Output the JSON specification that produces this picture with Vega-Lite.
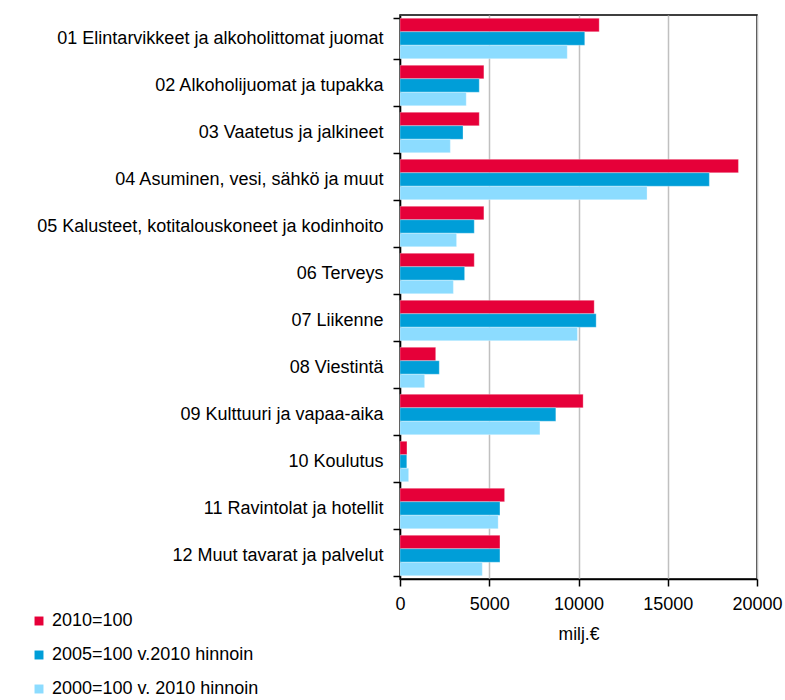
{
  "$schema": "https://vega.github.io/schema/vega-lite/v6.json",
  "width": 357,
  "height": 564,
  "autosize": {"type": "none"},
  "padding": {"left": 400, "top": 15, "right": 28, "bottom": 121},
  "background": "white",
  "config": {
    "view": {"stroke": "black", "strokeWidth": 1.5},
    "font": "Liberation Sans",
    "axis": {"labelFont": "Liberation Sans", "labelFontSize": 18, "labelColor": "black", "titleFont": "Liberation Sans", "titleFontSize": 17.5, "titleFontWeight": "normal", "titleColor": "black", "domainColor": "black", "tickColor": "black", "domainWidth": 1.5, "tickWidth": 1.5}
  },
  "data": {
    "values": [
      {"cat": "01 Elintarvikkeet ja alkoholittomat juomat", "series": "2010=100", "ord": 1, "value": 11160},
      {"cat": "01 Elintarvikkeet ja alkoholittomat juomat", "series": "2005=100 v.2010 hinnoin", "ord": 2, "value": 10350},
      {"cat": "01 Elintarvikkeet ja alkoholittomat juomat", "series": "2000=100 v. 2010 hinnoin", "ord": 3, "value": 9370},
      {"cat": "02 Alkoholijuomat ja tupakka", "series": "2010=100", "ord": 1, "value": 4700},
      {"cat": "02 Alkoholijuomat ja tupakka", "series": "2005=100 v.2010 hinnoin", "ord": 2, "value": 4440},
      {"cat": "02 Alkoholijuomat ja tupakka", "series": "2000=100 v. 2010 hinnoin", "ord": 3, "value": 3710},
      {"cat": "03 Vaatetus ja jalkineet", "series": "2010=100", "ord": 1, "value": 4440},
      {"cat": "03 Vaatetus ja jalkineet", "series": "2005=100 v.2010 hinnoin", "ord": 2, "value": 3530},
      {"cat": "03 Vaatetus ja jalkineet", "series": "2000=100 v. 2010 hinnoin", "ord": 3, "value": 2820},
      {"cat": "04 Asuminen, vesi, sähkö ja muut", "series": "2010=100", "ord": 1, "value": 18960},
      {"cat": "04 Asuminen, vesi, sähkö ja muut", "series": "2005=100 v.2010 hinnoin", "ord": 2, "value": 17330},
      {"cat": "04 Asuminen, vesi, sähkö ja muut", "series": "2000=100 v. 2010 hinnoin", "ord": 3, "value": 13840},
      {"cat": "05 Kalusteet, kotitalouskoneet ja kodinhoito", "series": "2010=100", "ord": 1, "value": 4700},
      {"cat": "05 Kalusteet, kotitalouskoneet ja kodinhoito", "series": "2005=100 v.2010 hinnoin", "ord": 2, "value": 4160},
      {"cat": "05 Kalusteet, kotitalouskoneet ja kodinhoito", "series": "2000=100 v. 2010 hinnoin", "ord": 3, "value": 3170},
      {"cat": "06 Terveys", "series": "2010=100", "ord": 1, "value": 4160},
      {"cat": "06 Terveys", "series": "2005=100 v.2010 hinnoin", "ord": 2, "value": 3620},
      {"cat": "06 Terveys", "series": "2000=100 v. 2010 hinnoin", "ord": 3, "value": 2990},
      {"cat": "07 Liikenne", "series": "2010=100", "ord": 1, "value": 10880},
      {"cat": "07 Liikenne", "series": "2005=100 v.2010 hinnoin", "ord": 2, "value": 10990},
      {"cat": "07 Liikenne", "series": "2000=100 v. 2010 hinnoin", "ord": 3, "value": 9940},
      {"cat": "08 Viestintä", "series": "2010=100", "ord": 1, "value": 2000},
      {"cat": "08 Viestintä", "series": "2005=100 v.2010 hinnoin", "ord": 2, "value": 2200},
      {"cat": "08 Viestintä", "series": "2000=100 v. 2010 hinnoin", "ord": 3, "value": 1380},
      {"cat": "09 Kulttuuri ja vapaa-aika", "series": "2010=100", "ord": 1, "value": 10260},
      {"cat": "09 Kulttuuri ja vapaa-aika", "series": "2005=100 v.2010 hinnoin", "ord": 2, "value": 8730},
      {"cat": "09 Kulttuuri ja vapaa-aika", "series": "2000=100 v. 2010 hinnoin", "ord": 3, "value": 7840},
      {"cat": "10 Koulutus", "series": "2010=100", "ord": 1, "value": 390},
      {"cat": "10 Koulutus", "series": "2005=100 v.2010 hinnoin", "ord": 2, "value": 380},
      {"cat": "10 Koulutus", "series": "2000=100 v. 2010 hinnoin", "ord": 3, "value": 485},
      {"cat": "11 Ravintolat ja hotellit", "series": "2010=100", "ord": 1, "value": 5860},
      {"cat": "11 Ravintolat ja hotellit", "series": "2005=100 v.2010 hinnoin", "ord": 2, "value": 5600},
      {"cat": "11 Ravintolat ja hotellit", "series": "2000=100 v. 2010 hinnoin", "ord": 3, "value": 5500},
      {"cat": "12 Muut tavarat ja palvelut", "series": "2010=100", "ord": 1, "value": 5600},
      {"cat": "12 Muut tavarat ja palvelut", "series": "2005=100 v.2010 hinnoin", "ord": 2, "value": 5600},
      {"cat": "12 Muut tavarat ja palvelut", "series": "2000=100 v. 2010 hinnoin", "ord": 3, "value": 4610}
    ]
  },
  "mark": {"type": "bar", "stroke": "white", "strokeWidth": 0.5, "strokeOpacity": 0.6},
  "encoding": {
    "y": {
      "field": "cat", "type": "nominal", "sort": null, "title": null,
      "scale": {"paddingInner": 0.14, "paddingOuter": 0.07},
      "axis": {"tickBand": "extent", "tickSize": 7, "labelPadding": 10, "labelLimit": 400, "grid": false}
    },
    "yOffset": {"field": "ord", "type": "ordinal", "sort": "ascending", "scale": {"paddingInner": 0, "paddingOuter": 0}},
    "x": {
      "field": "value", "type": "quantitative", "title": "milj.€",
      "scale": {"domain": [0, 20000], "nice": false},
      "axis": {"values": [0, 5000, 10000, 15000, 20000], "format": "d", "labelFlush": false, "labelBound": false, "tickSize": 7, "labelPadding": 9, "titlePadding": 12, "grid": true, "gridColor": "#c0c0c0", "gridWidth": 1.5, "labelFontSize": 18}
    },
    "color": {
      "field": "series", "type": "nominal",
      "scale": {"domain": ["2010=100", "2005=100 v.2010 hinnoin", "2000=100 v. 2010 hinnoin"], "range": ["#E60039", "#009ED8", "#8CDCFF"]},
      "legend": {"title": null, "orient": "none", "legendX": -370, "legendY": 597, "symbolType": "square", "symbolSize": 80, "symbolStrokeWidth": 0, "labelFontSize": 18, "labelFont": "Liberation Sans", "labelColor": "black", "labelLimit": 400, "rowPadding": 16, "labelOffset": 4}
    }
  }
}
